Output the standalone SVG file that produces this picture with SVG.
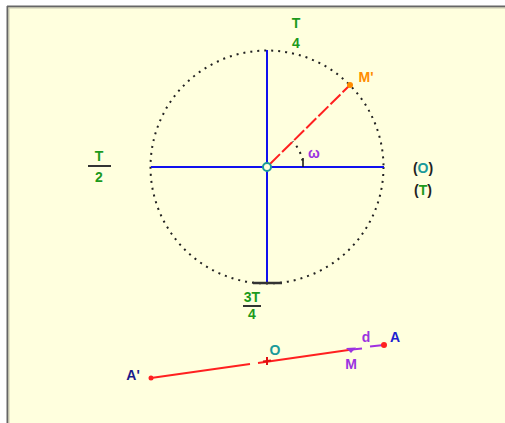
<svg xmlns="http://www.w3.org/2000/svg" width="505" height="423" viewBox="0 0 505 423">
<style>
text{font-family:"Liberation Sans",Arial,sans-serif;font-weight:bold;font-size:14px;text-anchor:middle}
.g{fill:#1c9a1c}.k{fill:#222}.p{fill:#9a33e0}.t{fill:#1a9a9a}
.axis{stroke:#1010ee;stroke-width:2;fill:none}
.dot{stroke:#222;stroke-width:2;fill:none;stroke-dasharray:2 5}
.fr{stroke:#333;stroke-width:2}
.red{stroke:#ff2020;stroke-width:2;fill:none}
</style>
<rect width="505" height="423" fill="#ffffff"/>
<rect x="7" y="6" width="498" height="417" fill="#ffffde"/>
<line x1="7" y1="6.5" x2="505" y2="6.5" stroke="#666" stroke-width="2"/>
<line x1="7.5" y1="6" x2="7.5" y2="423" stroke="#666" stroke-width="2"/>
<line x1="8" y1="8" x2="505" y2="8" stroke="#c8c8b0" stroke-width="1"/>
<line x1="9" y1="8" x2="9" y2="423" stroke="#c8c8b0" stroke-width="1"/>

<g id="connectors">
<circle cx="267" cy="167" r="116.5" class="dot"/>
<line x1="151" y1="167" x2="384" y2="167" class="axis"/>
<line x1="267" y1="50" x2="267" y2="284" class="axis"/>
<line x1="253" y1="283" x2="282" y2="283" stroke="#333" stroke-width="2.5"/>
<line x1="303" y1="158" x2="303" y2="167" stroke="#111" stroke-width="1.5"/>
<path d="M302.5,160.6 A36,36 0 0 0 292.5,141.5" class="dot" stroke-dasharray="2 4"/>
<line x1="270" y1="164" x2="350" y2="85" class="red" stroke-width="1.6" stroke-dasharray="14 3"/>
<polyline points="151,378 250,364" class="red"/>
<polyline points="258,363 352,349.5" class="red"/>
<line x1="352" y1="349.5" x2="362" y2="348.5" stroke="#a030e0" stroke-width="2"/>
<line x1="370" y1="346.5" x2="384" y2="345" stroke="#a030e0" stroke-width="2"/>
</g>

<g id="center-O"><circle cx="267" cy="167" r="4" fill="#ffffde" stroke="#1a9a9a" stroke-width="2"/></g>
<g id="point-M-prime"><circle cx="350" cy="85" r="3" fill="#ff8c00"/><text x="366" y="82" fill="#ff8c00">M'</text></g>
<g id="label-omega"><text x="314" y="158" class="p">ω</text></g>
<g id="label-T4"><text x="296" y="28" class="g">T</text><text x="296" y="48" class="g">4</text></g>
<g id="label-T2"><text x="99" y="161" class="g">T</text><line x1="88" y1="166" x2="111" y2="166" class="fr"/><text x="99" y="182" class="g">2</text></g>
<g id="label-3T4"><text x="252" y="302" class="g">3T</text><line x1="243" y1="306" x2="261" y2="306" class="fr"/><text x="252" y="319" class="g">4</text></g>
<g id="label-O-T"><text x="423" y="173"><tspan class="k">(</tspan><tspan class="t">O</tspan><tspan class="k">)</tspan></text><text x="423" y="195"><tspan class="k">(</tspan><tspan class="g">T</tspan><tspan class="k">)</tspan></text></g>

<g id="point-A-prime"><circle cx="151" cy="378" r="2.5" fill="#ff2020"/><text x="133" y="380" fill="#1a1a8a">A'</text></g>
<g id="point-O"><line x1="267" y1="357" x2="267" y2="365" stroke="#e01010" stroke-width="2"/><line x1="263" y1="361.5" x2="271" y2="360.5" stroke="#e01010" stroke-width="2"/><text x="275" y="355" class="t">O</text></g>
<g id="point-M"><polygon points="346,348 356,347.5 351,353" fill="#9a33e0"/><text x="351" y="369" class="p">M</text></g>
<g id="label-d"><text x="366" y="342" class="p">d</text></g>
<g id="point-A"><circle cx="384" cy="345" r="3" fill="#ff2020"/><text x="395" y="342" fill="#2020d0">A</text></g>
</svg>
